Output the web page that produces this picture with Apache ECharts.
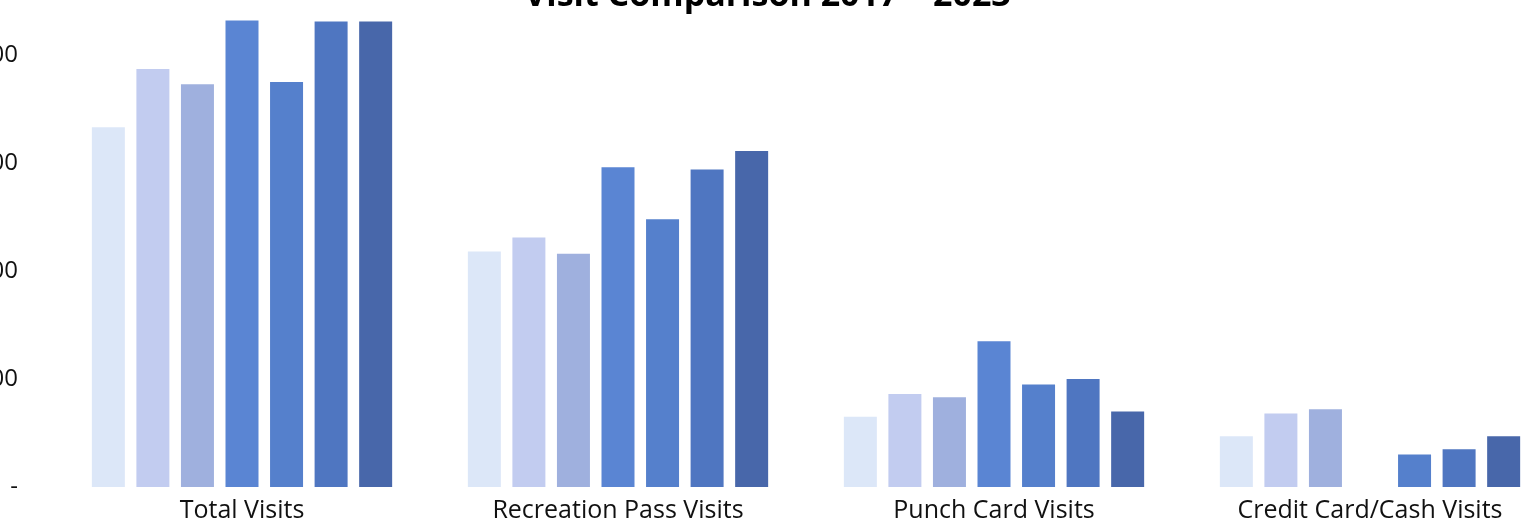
<!DOCTYPE html>
<html>
<head>
<meta charset="utf-8">
<script src="https://cdn.jsdelivr.net/npm/echarts@6/dist/echarts.min.js"></script>
<style>
  html, body { margin: 0; padding: 0; background: #fff; }
  #chart { width: 1535px; height: 521px; }
</style>
</head>
<body>
<div id="chart"></div>
<script>
const categories = ['Total Visits', 'Recreation Pass Visits', 'Punch Card Visits', 'Credit Card/Cash Visits']
const years = ['2017', '2018', '2019', '2020', '2021', '2022', '2023']

// one array per year, values in category order
const v2017 = [33300, 21800, 6500, 4700]
const v2018 = [38700, 23100, 8600, 6800]
const v2019 = [37300, 21600, 8300, 7200]
const v2020 = [43200, 29600, 13500, null]
const v2021 = [37500, 24800, 9500, 3000]
const v2022 = [43100, 29400, 10000, 3500]
const v2023 = [43100, 31100, 7000, 4700]

const yearValues = [v2017, v2018, v2019, v2020, v2021, v2022, v2023]
const colors = ['#dce7f8', '#c2ccf0', '#9fb0de', '#5a85d3', '#5580cc', '#4f76c1', '#4867aa']

const chart = echarts.init(document.getElementById('chart'))

chart.setOption({
  animation: false,
  title: {
    text: 'Visit Comparison 2017 \u2013 2023',
    left: 'center',
    top: -26,
    textStyle: {
      fontFamily: 'Open Sans',
      fontWeight: 'bold',
      fontSize: 34,
      color: '#000',
    },
  },
  grid: { left: 54, right: -23, top: -53, bottom: 34, outerBoundsMode: 'none', containLabel: false },
  xAxis: {
    type: 'category',
    data: categories,
    axisLine: { show: false },
    axisTick: { show: false },
    axisLabel: {
      fontFamily: 'Open Sans',
      fontSize: 25,
      color: '#111',
      margin: 11,
    },
  },
  yAxis: {
    type: 'value',
    min: 0,
    max: 50000,
    interval: 10000,
    splitLine: { show: false },
    axisLine: { show: false },
    axisTick: { show: false },
    axisLabel: {
      fontFamily: 'Open Sans',
      fontSize: 24,
      color: '#111',
      margin: 36,
      formatter: (v) => (v === 0 ? '-' : v.toLocaleString('en-US')),
    },
  },
  series: years.map((y, i) => ({
    name: y,
    type: 'bar',
    data: yearValues[i],
    barWidth: 33,
    barGap: '35%',
    itemStyle: { color: colors[i] },
  })),
})
</script>
</body>
</html>
